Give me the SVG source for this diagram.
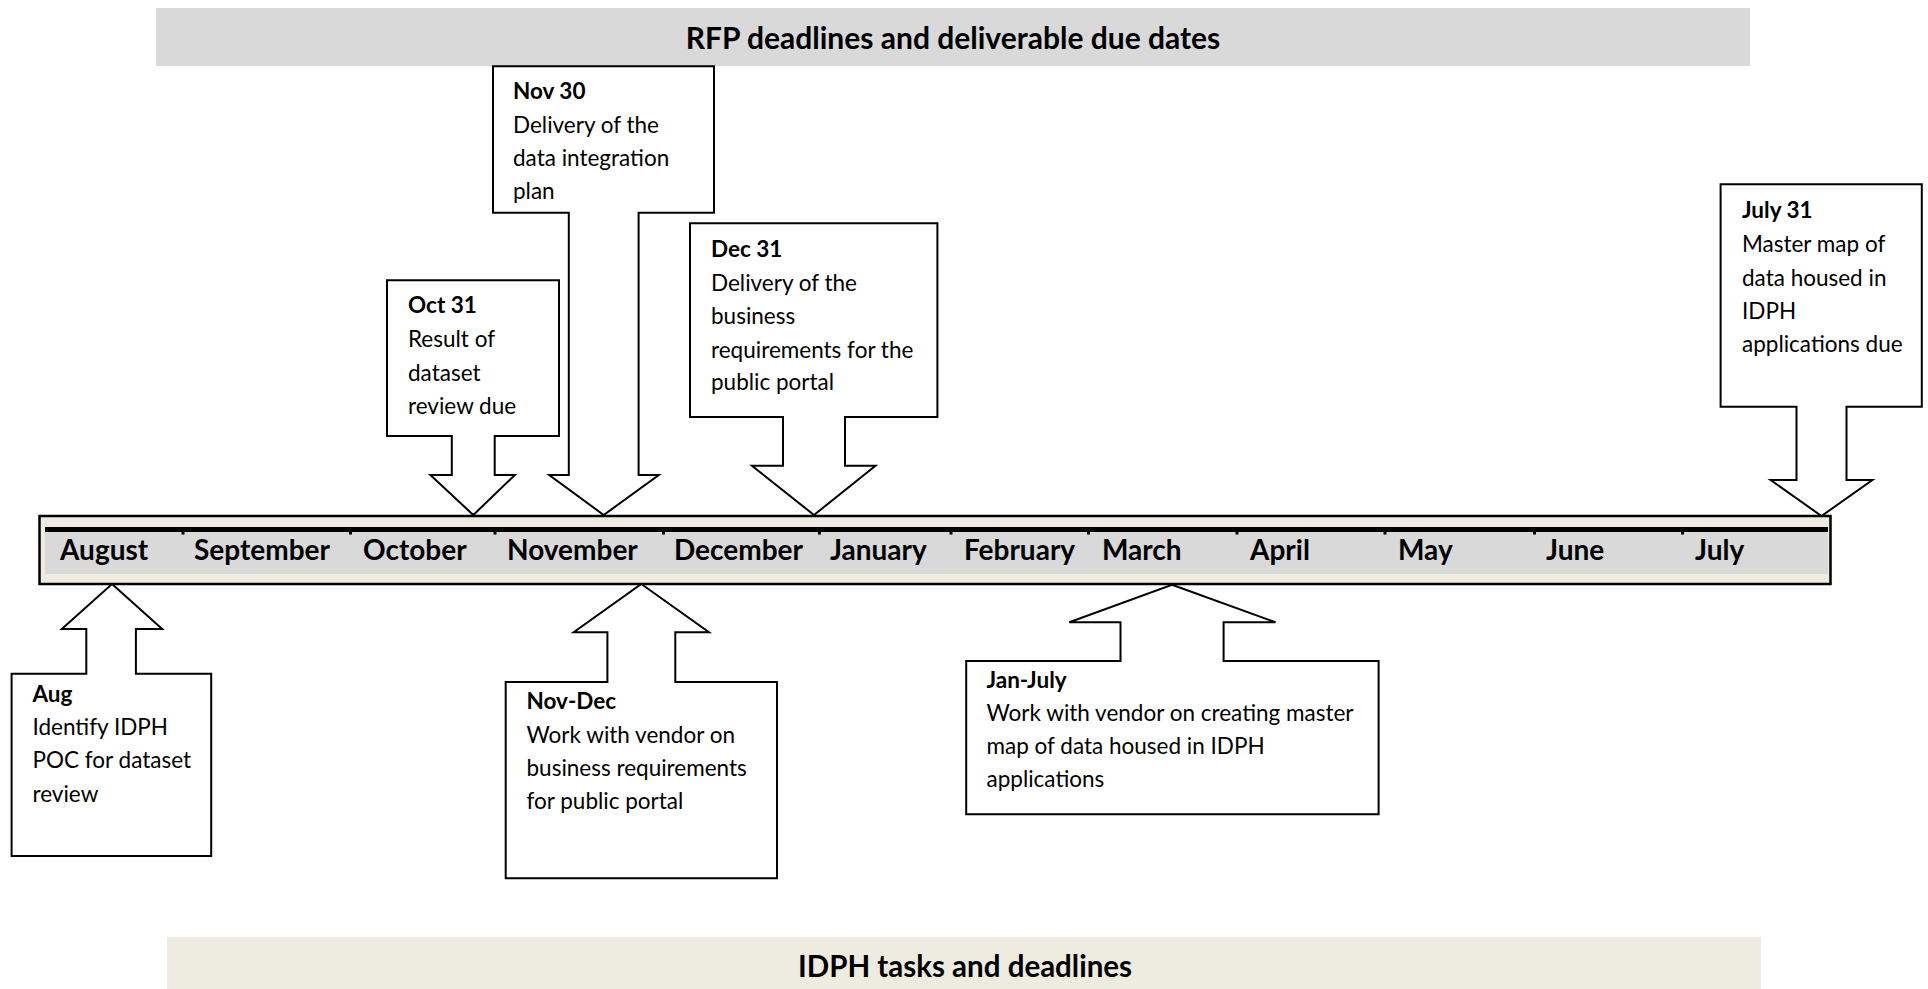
<svg xmlns="http://www.w3.org/2000/svg" width="1928" height="989" viewBox="0 0 1928 989">
<style>
text{font-family:Lato,"Liberation Sans",sans-serif;fill:#000}
.t{font-size:30px;font-weight:bold;text-anchor:middle}
.m{font-size:28px;font-weight:bold}
.h{font-size:22.5px;font-weight:bold}
.b{font-size:22.5px}
.co{fill:#fff;stroke:#000;stroke-width:2;stroke-linejoin:miter}
.tick{fill:#000}
</style>
<rect width="1928" height="989" fill="#fff"/>
<g id="rfp-banner">
<rect x="156" y="8" width="1594" height="58" fill="#d9d9d9"/>
<text class="t" x="953" y="49">RFP deadlines and deliverable due dates</text>
</g>
<g id="idph-banner">
<rect x="167" y="937" width="1594" height="52" fill="#eeece1"/>
<text class="t" x="965" y="977" style="font-size:29.5px">IDPH tasks and deadlines</text>
</g>
<g id="timeline">
<rect x="39.5" y="516" width="1791" height="68" fill="#eeece1" stroke="#000" stroke-width="2.5"/>
<rect x="45" y="532" width="1783" height="42" fill="#d9d9d9"/>
<rect x="45" y="527" width="1783" height="5" fill="#000"/>
<g class="tick">
<rect x="181.5" y="531" width="3" height="3.5"/>
<rect x="349" y="531" width="3" height="3.5"/>
<rect x="493.5" y="531" width="3" height="3.5"/>
<rect x="662" y="531" width="3" height="3.5"/>
<rect x="818" y="531" width="3" height="3.5"/>
<rect x="949.5" y="531" width="3" height="3.5"/>
<rect x="1087" y="531" width="3" height="3.5"/>
<rect x="1235.5" y="531" width="3" height="3.5"/>
<rect x="1383.5" y="531" width="3" height="3.5"/>
<rect x="1533" y="531" width="3" height="3.5"/>
<rect x="1681" y="531" width="3" height="3.5"/>
</g>
<text class="m" x="60" y="560">August</text>
<text class="m" x="194" y="560">September</text>
<text class="m" x="363" y="560">October</text>
<text class="m" x="507" y="560">November</text>
<text class="m" x="674" y="560">December</text>
<text class="m" x="830" y="560">January</text>
<text class="m" x="964" y="560">February</text>
<text class="m" x="1102" y="560">March</text>
<text class="m" x="1250" y="560">April</text>
<text class="m" x="1398" y="560">May</text>
<text class="m" x="1546" y="560">June</text>
<text class="m" x="1695" y="560">July</text>
</g>
<g id="connectors"></g>
<g id="oct31">
<path class="co" d="M387,280.3 H559 V436 H494.7 V475 H514.9 L473.3,515 L430.4,475 H451.8 V436 H387 Z"/>
<text class="h" x="408" y="313">Oct 31</text>
<text class="b" x="408" y="347">Result of</text>
<text class="b" x="408" y="381">dataset</text>
<text class="b" x="408" y="414">review due</text>
</g>
<g id="nov30">
<path class="co" d="M493,66.3 H714 V212.7 H638.6 V475 H658.8 L603.7,515 L549.2,475 H568.8 V212.7 H493 Z"/>
<text class="h" x="513" y="99">Nov 30</text>
<text class="b" x="513" y="133">Delivery of the</text>
<text class="b" x="513" y="166">data integration</text>
<text class="b" x="513" y="199">plan</text>
</g>
<g id="dec31">
<path class="co" d="M690,223.3 H937.4 V417 H845 V465.7 H875.5 L814,515 L751.9,465.7 H783 V417 H690 Z"/>
<text class="h" x="711" y="257">Dec 31</text>
<text class="b" x="711" y="291">Delivery of the</text>
<text class="b" x="711" y="324">business</text>
<text class="b" x="711" y="358">requirements for the</text>
<text class="b" x="711" y="390">public portal</text>
</g>
<g id="jul31">
<path class="co" d="M1720.6,184.3 H1921.8 V406.7 H1846.5 V480 H1872.4 L1821.5,516 L1770.6,480 H1796.5 V406.7 H1720.6 Z"/>
<text class="h" x="1742" y="218">July 31</text>
<text class="b" x="1742" y="252">Master map of</text>
<text class="b" x="1742" y="286">data housed in</text>
<text class="b" x="1742" y="319">IDPH</text>
<text class="b" x="1742" y="352">applications due</text>
</g>
<g id="aug">
<path class="co" d="M112,584 L162.2,629 H135.9 V673.7 H211.2 V856 H11.6 V673.7 H86.3 V629 H61.8 Z"/>
<text class="h" x="32.5" y="702">Aug</text>
<text class="b" x="32.5" y="735">Identify IDPH</text>
<text class="b" x="32.5" y="768">POC for dataset</text>
<text class="b" x="32.5" y="802">review</text>
</g>
<g id="novdec">
<path class="co" d="M641.3,584 L709,632.3 H675.3 V682 H777 V878.3 H505.7 V682 H607.4 V632.3 H573.7 Z"/>
<text class="h" x="526.5" y="709">Nov-Dec</text>
<text class="b" x="526.5" y="743">Work with vendor on</text>
<text class="b" x="526.5" y="776">business requirements</text>
<text class="b" x="526.5" y="809">for public portal</text>
</g>
<g id="janjul">
<path class="co" d="M1172,584.7 L1275.5,622.3 H1223.6 V661 H1378.6 V814.3 H966.2 V661 H1120.5 V622.3 H1069.3 Z"/>
<text class="h" x="986.5" y="688">Jan-July</text>
<text class="b" x="986.5" y="721">Work with vendor on creating master</text>
<text class="b" x="986.5" y="754">map of data housed in IDPH</text>
<text class="b" x="986.5" y="787">applications</text>
</g>
</svg>
